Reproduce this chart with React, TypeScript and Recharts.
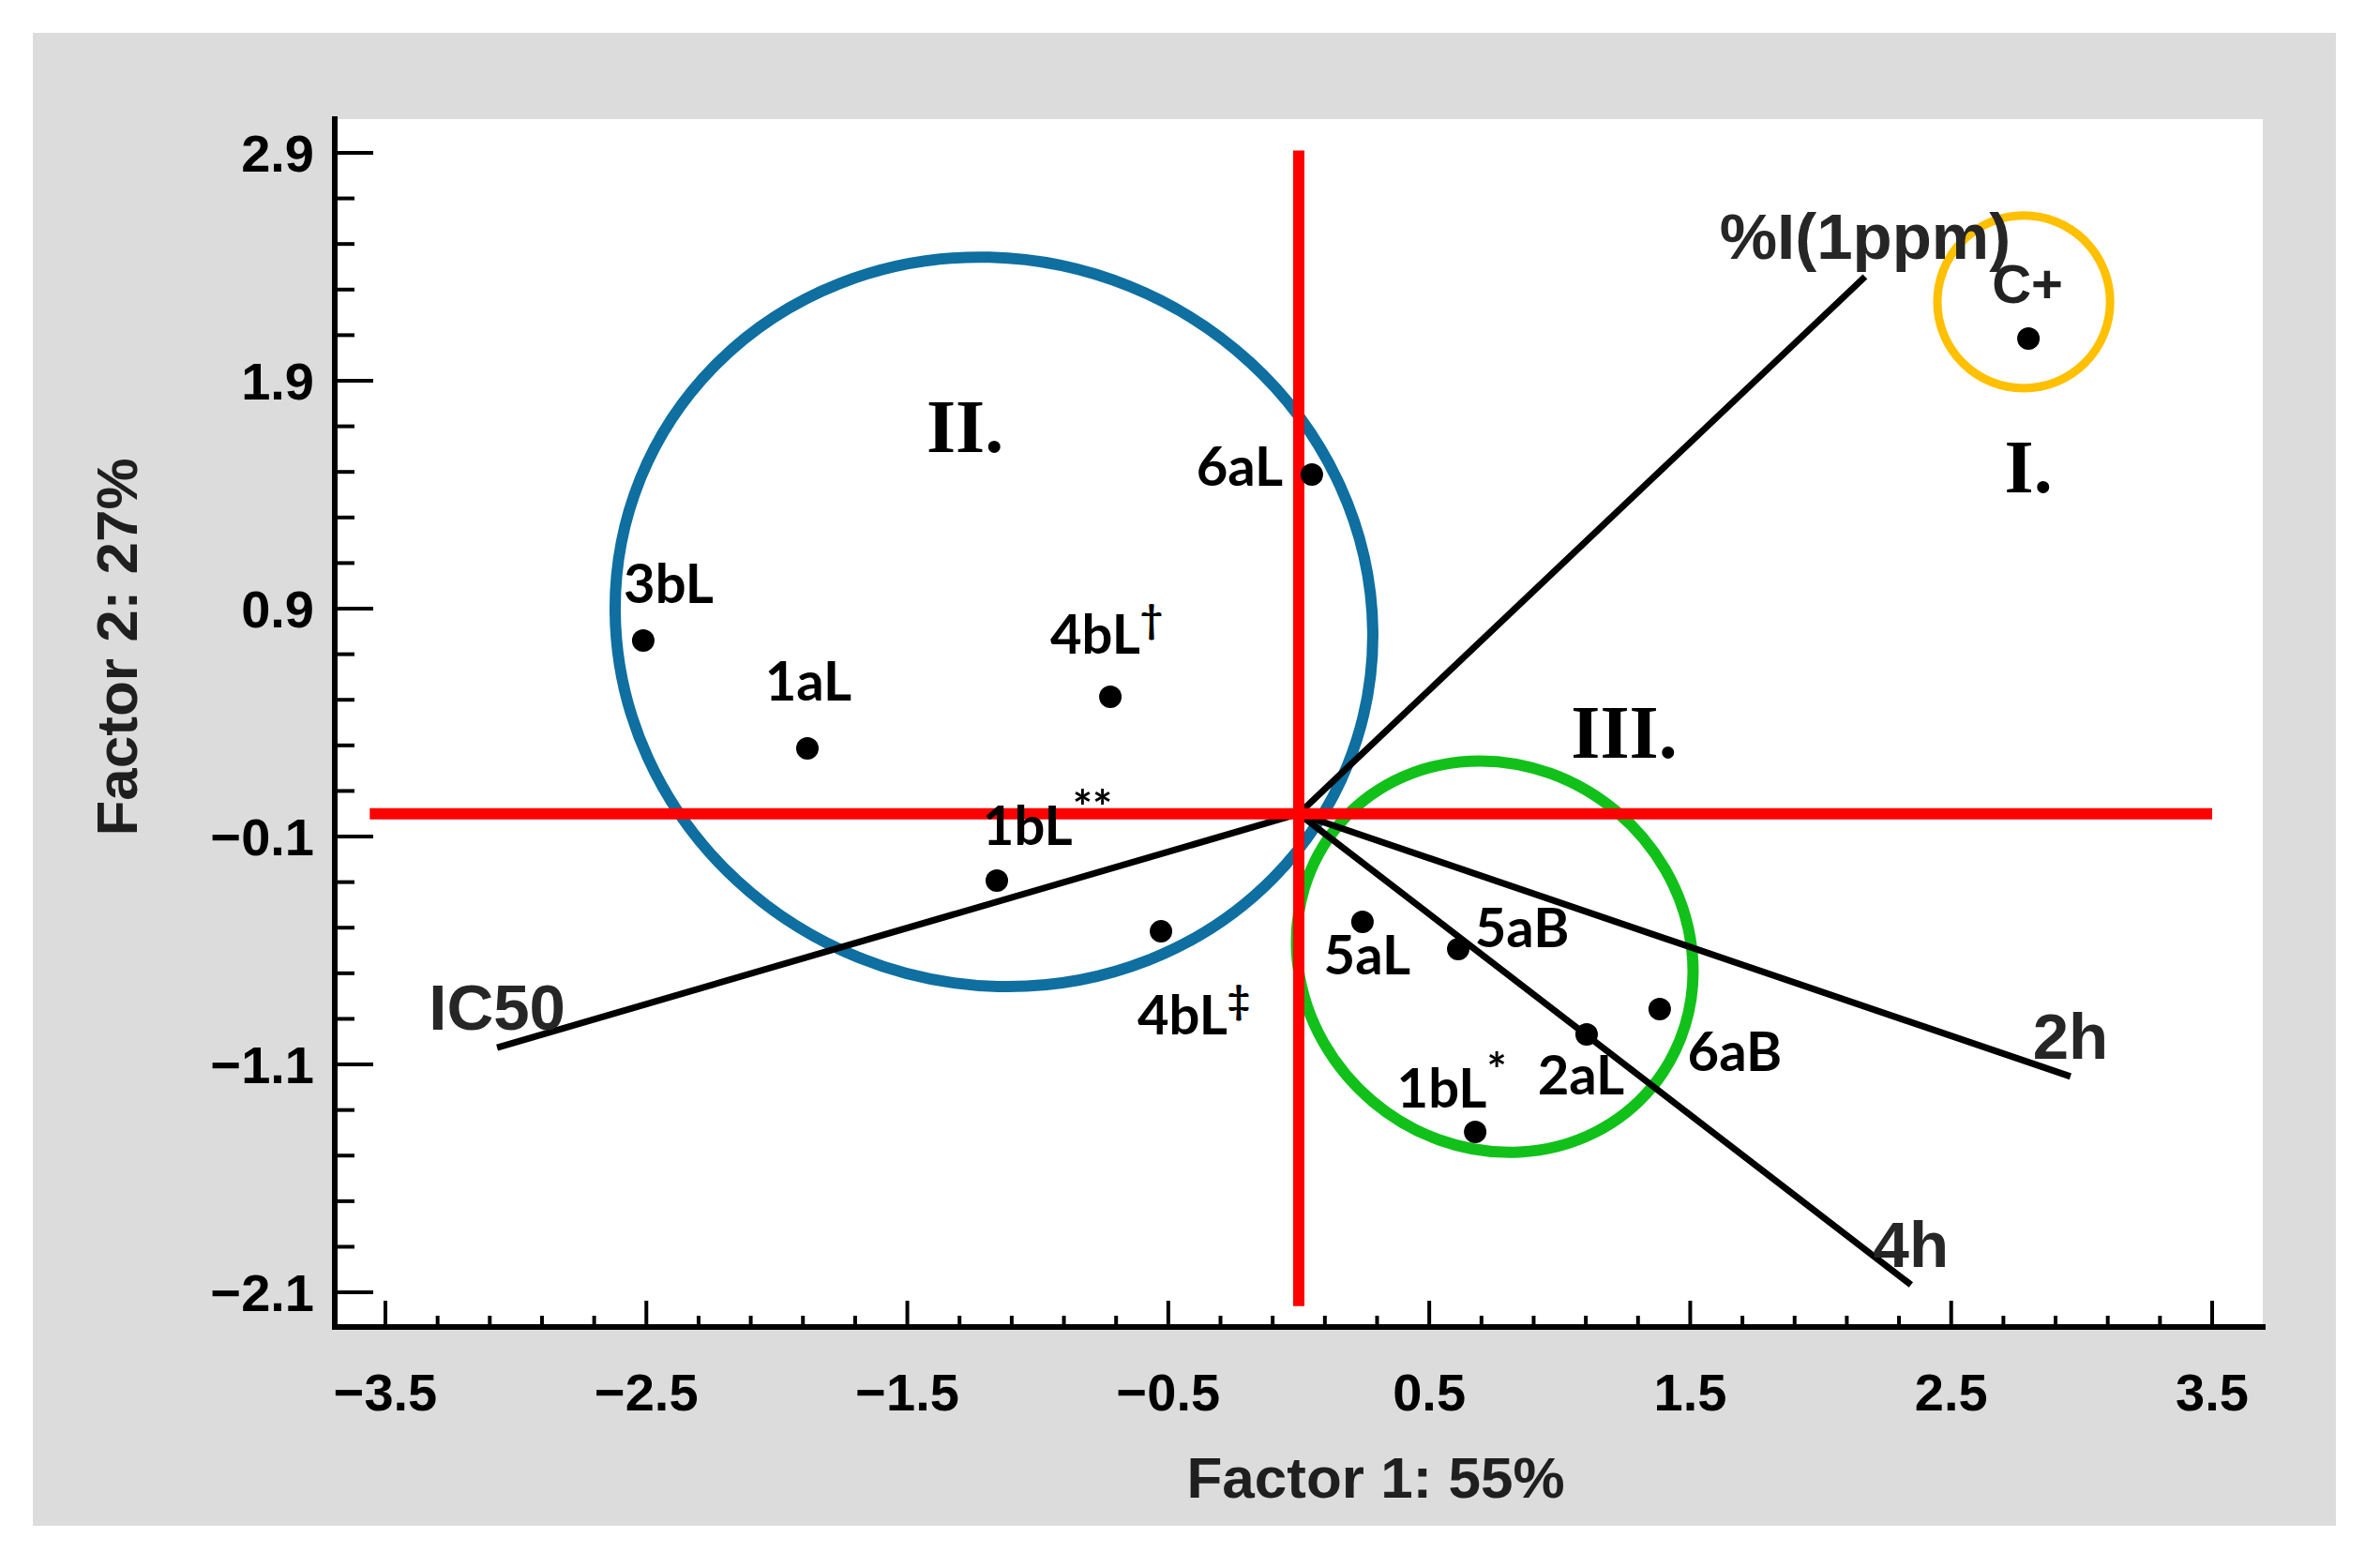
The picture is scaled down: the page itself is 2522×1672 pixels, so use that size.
import React from "react";
import {
  ScatterChart,
  Scatter,
  XAxis,
  YAxis,
  CartesianGrid,
  ReferenceLine,
  ReferenceArea,
  ReferenceDot,
} from "recharts";

// ---- data ----
const pointNames = ["C+", "6aL", "3bL", "1aL", "4bL†", "1bL**", "4bL‡", "5aL", "5aB", "2aL", "6aB", "1bL*"];
const pointX = [2.796, 0.05, -2.512, -1.883, -0.722, -1.157, -0.528, 0.244, 0.611, 1.103, 1.383, 0.676];
const pointY = [2.085, 1.488, 0.76, 0.287, 0.513, -0.293, -0.516, -0.474, -0.594, -0.968, -0.857, -1.396];

// loading vectors, drawn from the origin
const loadingNames = ["%I(1ppm)", "IC50", "2h", "4h"];
const loadingX = [2.17, -3.072, 2.957, 2.346];
const loadingY = [2.357, -1.026, -1.153, -2.067];

// red cross through the origin
const crossVertical = [{ x: 0, y: -2.16 }, { x: 0, y: 2.91 }];
const crossHorizontal = [{ x: -3.56, y: 0 }, { x: 3.5, y: 0 }];

// cluster ellipses (centre + radii in data units)
const clusterNames = ["I.", "II.", "III."];
const clusterCx = [2.778, -1.168, 0.751];
const clusterCy = [2.246, 0.842, -0.627];
const clusterRx = [0.331, 1.462, 0.783];
const clusterRy = [0.379, 1.588, 0.831];
const tagX = [2.796, -1.279, 1.247];
const tagY = [1.517, 1.694, 0.353];

const xMajor = [-3.5, -2.5, -1.5, -0.5, 0.5, 1.5, 2.5, 3.5];
const yMajor = [-2.1, -1.1, -0.1, 0.9, 1.9, 2.9];
const xDomain = [-3.694, 3.694];
const yDomain = [-2.252, 3.048];

// ---- layout / styles ----
const W = 2522;
const H = 1672;
const PLOT = { left: 357, top: 127, right: 2413, bottom: 1415 };
const Y_AXIS_W = 120;
const X_AXIS_H = 120;

const clusterColors = ["#ffc000", "#0e6fa0", "#11c11a"];
const clusterRotate = [0, 22, 40];
const clusterStroke = [9, 12, 12];

const labelOffset: Record<string, [number, number]> = {
  "C+": [-1, -59],
  "6aL": [-77, -9],
  "3bL": [27, -61],
  "1aL": [1, -72],
  "4bL†": [-4, -67],
  "1bL**": [54, -59],
  "4bL‡": [35, 89],
  "5aL": [5, 35],
  "5aB": [68, -23],
  "2aL": [-6, 43],
  "6aB": [80, 45],
  "1bL*": [-25, -47],
};

const SANS = "'Liberation Sans', Arial, sans-serif";
const LABEL_FONT = "Lato, 'Open Sans', sans-serif";
const SERIF = "'Liberation Serif', 'Times New Roman', serif";

const points = pointNames.map((name, i) => ({ name, x: pointX[i], y: pointY[i] }));

const withMinor = (majors: number[]) =>
  majors.flatMap((m, i) =>
    i === majors.length - 1 ? [m] : [0, 1, 2, 3, 4].map((k) => Math.round((m + k * 0.2) * 10) / 10)
  );
const xTicks = withMinor(xMajor);
const yTicks = withMinor(yMajor);

const isMajor = (v: number, majors: number[]) => majors.some((m) => Math.abs(m - v) < 1e-6);
const fmt = (v: number) => (v < 0 ? "\u2212" : "") + Math.abs(v).toFixed(1);

const tickText = { fontFamily: SANS, fontWeight: 700, fontSize: 56, fill: "#000" };

const BottomTick = (props: any) => {
  const { x, y, payload } = props;
  const major = isMajor(payload.value, xMajor);
  return (
    <g>
      <line x1={x} x2={x} y1={y} y2={y - (major ? 28 : 12)} stroke="#000" strokeWidth={4} />
      {major && (
        <text x={x} y={y + 89} textAnchor="middle" {...tickText}>
          {fmt(payload.value)}
        </text>
      )}
    </g>
  );
};

const TopTick = (props: any) => {
  const { x, y, payload } = props;
  const major = isMajor(payload.value, xMajor);
  return <line x1={x} x2={x} y1={y} y2={y + (major ? 28 : 12)} stroke="#000" strokeWidth={4} />;
};

const LeftTick = (props: any) => {
  const { x, y, payload } = props;
  const major = isMajor(payload.value, yMajor);
  return (
    <g>
      <line x1={x} x2={x + (major ? 41 : 21)} y1={y} y2={y} stroke="#000" strokeWidth={4} />
      {major && (
        <text x={x - 22} y={y + 20} textAnchor="end" {...tickText}>
          {fmt(payload.value)}
        </text>
      )}
    </g>
  );
};

const RightTick = (props: any) => {
  const { x, y, payload } = props;
  const major = isMajor(payload.value, yMajor);
  return <line x1={x} x2={x - (major ? 41 : 21)} y1={y} y2={y} stroke="#000" strokeWidth={4} />;
};

const PointMark = (props: any) => {
  const { cx, cy, payload } = props;
  const name: string = payload.name;
  const [dx, dy] = labelOffset[name] ?? [0, -50];
  const m = /^(.*?)([*†‡]+)$/.exec(name);
  const base = m ? m[1] : name;
  const sup = m ? m[2] : "";
  const control = name === "C+";
  const size = control ? 58 : 58;
  return (
    <g>
      <circle cx={cx} cy={cy} r={12} fill="#000" />
      <text
        x={cx + dx}
        y={cy + dy + size * 0.36}
        textAnchor="middle"
        fontFamily={control ? SANS : LABEL_FONT}
        fontWeight={700}
        fontSize={size}
        fill={control ? "#222" : "#000"}
      >
        <tspan>{base}</tspan>
        {sup && (
          <tspan fontSize={sup.includes("*") ? 50 : 42} dy={-22}>
            {sup}
          </tspan>
        )}
      </text>
    </g>
  );
};

const axisLine = { stroke: "#000", strokeWidth: 6, strokeLinecap: "square" as const };

export default function App() {
  return (
    <div style={{ position: "absolute", left: 0, top: 0, width: W, height: H, background: "#fff" }}>
      <div
        style={{ position: "absolute", left: 35, top: 35, width: 2456, height: 1592, background: "#dcdcdc" }}
      />
      <div style={{ position: "absolute", left: 0, top: 0 }}>
        <ScatterChart
          width={W}
          height={H}
          margin={{
            top: PLOT.top,
            right: W - PLOT.right,
            bottom: H - PLOT.bottom - X_AXIS_H,
            left: PLOT.left - Y_AXIS_W,
          }}
        >
          <CartesianGrid fill="#fff" horizontal={false} vertical={false} />
          <XAxis
            type="number"
            dataKey="x"
            domain={xDomain}
            allowDataOverflow
            ticks={xTicks}
            interval={0}
            tick={BottomTick}
            tickLine={false}
            tickSize={0}
            tickMargin={0}
            axisLine={axisLine}
            height={X_AXIS_H}
            label={() => (
              <text x={1467} y={1597} textAnchor="middle" fontFamily={SANS} fontWeight={700} fontSize={62} fill="#1f1f1f">
                Factor 1: 55%
              </text>
            )}
          />
          <XAxis
            xAxisId="top"
            orientation="top"
            type="number"
            domain={xDomain}
            allowDataOverflow
            ticks={xTicks}
            interval={0}
            tick={TopTick}
            tickLine={false}
            tickSize={0}
            tickMargin={0}
            axisLine={axisLine}
            height={0}
          />
          <YAxis
            type="number"
            dataKey="y"
            domain={yDomain}
            allowDataOverflow
            ticks={yTicks}
            interval={0}
            tick={LeftTick}
            tickLine={false}
            tickSize={0}
            tickMargin={0}
            axisLine={axisLine}
            width={Y_AXIS_W}
            label={() => (
              <text
                transform="translate(124,690) rotate(-90)"
                y={22}
                textAnchor="middle"
                fontFamily={SANS}
                fontWeight={700}
                fontSize={62}
                fill="#1f1f1f"
              >
                Factor 2: 27%
              </text>
            )}
          />
          <YAxis
            yAxisId="right"
            orientation="right"
            type="number"
            domain={yDomain}
            allowDataOverflow
            ticks={yTicks}
            interval={0}
            tick={RightTick}
            tickLine={false}
            tickSize={0}
            tickMargin={0}
            axisLine={axisLine}
            width={0}
          />

          {loadingNames.map((name, i) => (
            <ReferenceLine
              key={`load-${name}`}
              segment={[{ x: 0, y: 0 }, { x: loadingX[i], y: loadingY[i] }]}
              stroke="#000"
              strokeWidth={7}
              ifOverflow="visible"
            />
          ))}
          {loadingNames.map((name, i) => (
            <ReferenceDot
              key={`load-label-${name}`}
              x={loadingX[i]}
              y={loadingY[i]}
              r={0}
              ifOverflow="visible"
              shape={(p: any) => (
                <text
                  x={p.cx}
                  y={p.cy - 44 + 25}
                  textAnchor="middle"
                  fontFamily={SANS}
                  fontWeight={700}
                  fontSize={69}
                  fill="#262626"
                >
                  {name}
                </text>
              )}
            />
          ))}

          <ReferenceLine segment={crossVertical} stroke="#ff0000" strokeWidth={12} ifOverflow="visible" />
          <ReferenceLine segment={crossHorizontal} stroke="#ff0000" strokeWidth={12} ifOverflow="visible" />

          {clusterNames.map((name, i) => (
            <ReferenceArea
              key={`cluster-${name}`}
              x1={clusterCx[i] - clusterRx[i]}
              x2={clusterCx[i] + clusterRx[i]}
              y1={clusterCy[i] - clusterRy[i]}
              y2={clusterCy[i] + clusterRy[i]}
              ifOverflow="visible"
              fill="none"
              shape={(p: any) => {
                const cx = p.x + p.width / 2;
                const cy = p.y + p.height / 2;
                return (
                  <ellipse
                    cx={cx}
                    cy={cy}
                    rx={Math.abs(p.width) / 2}
                    ry={Math.abs(p.height) / 2}
                    transform={`rotate(${clusterRotate[i]} ${cx} ${cy})`}
                    fill="none"
                    stroke={clusterColors[i]}
                    strokeWidth={clusterStroke[i]}
                  />
                );
              }}
            />
          ))}
          {clusterNames.map((name, i) => (
            <ReferenceDot
              key={`tag-${name}`}
              x={tagX[i]}
              y={tagY[i]}
              r={0}
              ifOverflow="visible"
              shape={(p: any) => (
                <text x={p.cx} y={p.cy + 26} textAnchor="middle" fontFamily={SERIF} fontWeight={700} fontSize={80} fill="#000">
                  {name}
                </text>
              )}
            />
          ))}

          <Scatter data={points} shape={PointMark} isAnimationActive={false} />
        </ScatterChart>
      </div>
    </div>
  );
}
